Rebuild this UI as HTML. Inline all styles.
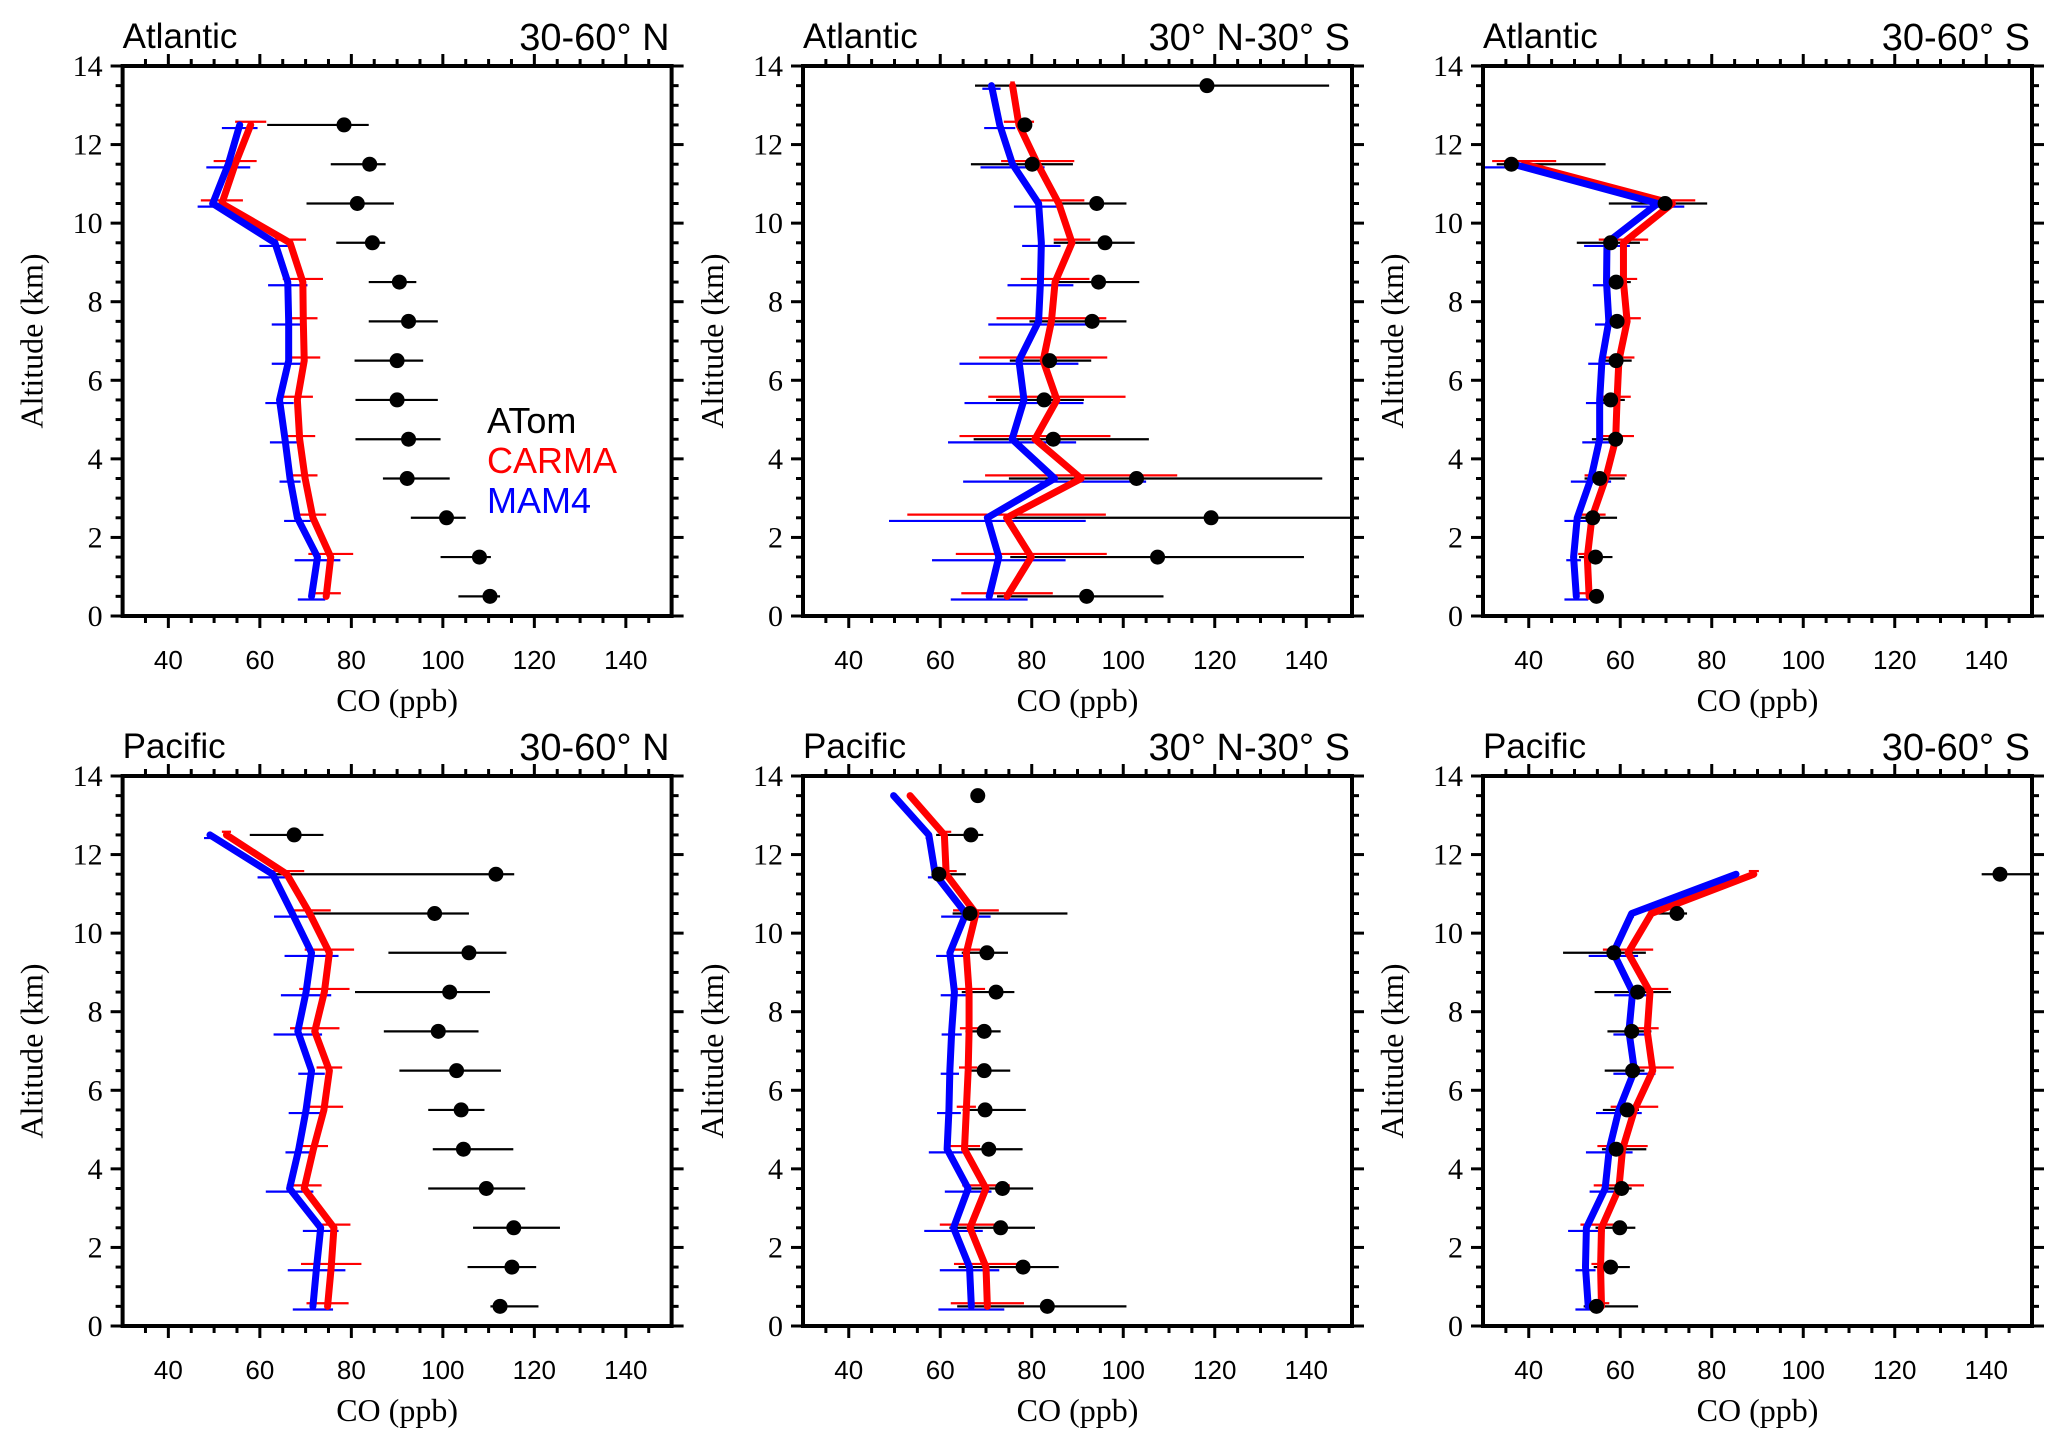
<!DOCTYPE html>
<html><head><meta charset="utf-8"><style>
html,body{margin:0;padding:0;background:#fff;}
svg{display:block;}
</style></head><body>
<svg id="chart" width="2067" height="1443" viewBox="0 0 2067 1443" xmlns="http://www.w3.org/2000/svg"></svg>
<script>
// ---- data (CO ppb by altitude km) ----
const xTicks = [40,60,80,100,120,140];
const yTicks = [0,2,4,6,8,10,12,14];
const basins = ["Atlantic","Atlantic","Atlantic","Pacific","Pacific","Pacific"];
const regions = ["30-60° N","30° N-30° S","30-60° S","30-60° N","30° N-30° S","30-60° S"];

const alt13 = [0.5,1.5,2.5,3.5,4.5,5.5,6.5,7.5,8.5,9.5,10.5,11.5,12.5];
const alt14 = [0.5,1.5,2.5,3.5,4.5,5.5,6.5,7.5,8.5,9.5,10.5,11.5,12.5,13.5];
const alt12 = [0.5,1.5,2.5,3.5,4.5,5.5,6.5,7.5,8.5,9.5,10.5,11.5];

// Panel 1: Atlantic 30-60N
const p1Atom = [110.3,108,100.8,92.2,92.5,90,90,92.5,90.5,84.6,81.3,84,78.4];
const p1AtomLo = [103.4,99.5,93,86.9,80.9,80.9,80.7,83.8,83.8,76.7,70.2,75.5,61.6];
const p1AtomHi = [112.5,110.5,105,101.5,99.5,98.9,95.7,98.9,94.2,87.4,89.3,87.5,83.8];
const p1Carma = [74.5,75.5,71.6,69.9,68.7,68.2,69.7,69.5,69.4,66.6,51.7,54.6,58];
const p1CarmaErr = [3.2,4.9,2.9,2.7,3.4,3.4,3.5,3.1,4.4,3.5,4.6,4.7,3.4];
const p1Mam4 = [71.3,72.6,68.2,66.6,65.5,64.3,66.3,66.3,66.1,63.3,49.7,53.1,55.6];
const p1Mam4Err = [3,5,2.9,2.3,3.3,3.1,3.7,3.7,4.3,3.4,3.3,4.8,3.9];

// Panel 2: Atlantic 30N-30S
const p2Atom = [92,107.5,119.2,102.9,84.7,82.7,83.9,93.2,94.6,96,94.2,80.1,78.5,118.3];
const p2AtomLo = [72.4,75.3,75.4,75,67.3,72.2,75.2,79.5,84.7,84.8,86.3,66.7,77,67.6];
const p2AtomHi = [108.8,139.5,150,143.5,105.6,91.4,93,100.7,103.5,102.5,100.7,89,80,145];
const p2Carma = [74.6,79.9,74.5,90.8,80.7,85.5,82.5,84.3,85.1,88.8,85.9,81.3,77.2,75.8];
const p2CarmaErr = [10,16.5,21.7,21,16.5,15,14,12,7.5,4,5.6,8,3.3,0.5];
const p2Mam4 = [70.7,72.8,70.3,85,75.7,78.3,77.2,81.5,81.9,82.1,81.5,75.8,73,71.2];
const p2Mam4Err = [8.4,14.6,21.5,20,14,13,13,11,7.2,4.2,5.4,7,3.4,2];

// Panel 3: Atlantic 30-60S
const p3Atom = [54.8,54.6,54,55.5,59,57.9,59.1,59.3,59.1,57.9,69.8,36.2];
const p3AtomLo = [52.8,51,50.4,52.2,53.8,55,56.2,57.6,56.8,50.5,57.5,33];
const p3AtomHi = [56.4,58.3,59.3,61,60,61,62.5,61.9,62.3,64.3,79,56.8];
const p3Carma = [53.2,52.8,53.8,56.8,59,59.3,59.7,61.5,60.7,60.7,71.4,39];
const p3CarmaErr = [2.5,2,3,4.6,4,3,3.4,3,3,5.4,5,7];
const p3Mam4 = [50.4,49.8,50.6,53.6,55.5,55.5,56,57.5,57,57.1,68.2,36.6];
const p3Mam4Err = [2.6,1.6,2.8,4.4,3.8,3,3,3,3,5,5.8,6.5];

// Panel 4: Pacific 30-60N
const p4Atom = [112.5,115.1,115.5,109.5,104.5,104,103,99,101.5,105.7,98.2,111.6,67.5];
const p4AtomLo = [110.4,105.4,106.6,96.8,97.8,96.8,90.5,87.1,80.8,88.1,70.1,63.2,57.8];
const p4AtomHi = [120.9,120.4,125.6,118,115.4,109.1,112.7,107.8,110.3,113.9,105.7,115.6,73.9];
const p4Carma = [74.8,75.6,76.2,69.7,71.7,74,75.2,72,74.1,75.2,70.9,65.9,52.7];
const p4CarmaErr = [4.6,6.6,3.6,3.8,3.2,4.2,2.8,5.4,5.5,5.4,4.6,3.8,1];
const p4Mam4 = [71.6,72.4,73.3,66.5,68.5,70.1,71.3,68.3,70.1,71.3,67.1,62.8,49.1];
const p4Mam4Err = [4.4,6.3,3.9,5.2,2.9,3.8,2.9,5.3,5.5,5.9,4,3.3,1.3];

// Panel 5: Pacific 30N-30S
const p5Atom = [83.4,78.1,73.2,73.6,70.6,69.8,69.6,69.6,72.2,70.2,66.5,59.7,66.7,68.2];
const p5AtomLo = [63.7,64,62,65.7,65.3,64.9,65.5,65.5,64.7,64.7,62.7,58.3,59.1,68.2];
const p5AtomHi = [100.7,85.9,80.7,80.3,78,78.7,75.3,73.2,76.2,74.8,87.8,65.6,69.4,68.2];
const p5Carma = [70.3,70,66.5,70,65.3,65.7,66.1,66.3,66.3,65.7,67.8,61.3,60.9,53.4];
const p5CarmaErr = [8,7,6.6,5.2,3.4,2.1,2,2,3.5,3,5,2.3,1.5,0];
const p5Mam4 = [66.8,66.4,62.9,66.1,61.5,61.9,62.1,62.5,63.1,62.1,65.6,58.9,57.5,49.8];
const p5Mam4Err = [7.2,6.5,6.4,5.1,4,2.6,2,2.2,3,3,5.4,1.6,0.7,0];

// Panel 6: Pacific 30-60S
const p6Atom = [54.8,57.9,59.9,60.3,59.1,61.5,62.7,62.5,63.8,58.6,72.4,143];
const p6AtomLo = [52,54.2,54.6,55.9,56,56.2,56.6,57.2,54.4,47.5,68.2,139];
const p6AtomHi = [63.9,62.1,63.3,62.5,65.7,64.1,65.3,66.8,71.1,65.6,74.6,150];
const p6Carma = [55.9,55.7,55.9,59.7,60.5,63.1,67.1,65.9,66.5,61.7,66.8,89.2];
const p6CarmaErr = [1.7,2,4.6,5.5,5.5,5.2,4.6,2.5,4,5.5,1,1.1];
const p6Mam4 = [53,52.4,52.6,56.7,57.6,59.7,63.1,61.9,62.7,58.5,62.5,85.3];
const p6Mam4Err = [2.8,2.2,4,3.4,5.1,5,4.6,3.4,4,5.4,0.5,0.5];

const panels = [
 {alt:alt13, atom:p1Atom, lo:p1AtomLo, hi:p1AtomHi, carma:p1Carma, cErr:p1CarmaErr, mam:p1Mam4, mErr:p1Mam4Err},
 {alt:alt14, atom:p2Atom, lo:p2AtomLo, hi:p2AtomHi, carma:p2Carma, cErr:p2CarmaErr, mam:p2Mam4, mErr:p2Mam4Err},
 {alt:alt12, atom:p3Atom, lo:p3AtomLo, hi:p3AtomHi, carma:p3Carma, cErr:p3CarmaErr, mam:p3Mam4, mErr:p3Mam4Err},
 {alt:alt13, atom:p4Atom, lo:p4AtomLo, hi:p4AtomHi, carma:p4Carma, cErr:p4CarmaErr, mam:p4Mam4, mErr:p4Mam4Err},
 {alt:alt14, atom:p5Atom, lo:p5AtomLo, hi:p5AtomHi, carma:p5Carma, cErr:p5CarmaErr, mam:p5Mam4, mErr:p5Mam4Err},
 {alt:alt12, atom:p6Atom, lo:p6AtomLo, hi:p6AtomHi, carma:p6Carma, cErr:p6CarmaErr, mam:p6Mam4, mErr:p6Mam4Err}
];

const NS = "http://www.w3.org/2000/svg";
const svg = document.getElementById("chart");
function mk(tag, attrs, parent){
  const e = document.createElementNS(NS, tag);
  for (const k in attrs) e.setAttribute(k, attrs[k]);
  (parent||svg).appendChild(e);
  return e;
}
const colX = [122.6, 803, 1483];
const rowY = [66, 776];
const PW = 549, PH = 550;
const XMIN = 30, XMAX = 150, YMIN = 0, YMAX = 14;

panels.forEach((p, i) => {
  const L = colX[i % 3], T = rowY[Math.floor(i / 3)];
  const xs = v => L + (v - XMIN) / (XMAX - XMIN) * PW;
  const ys = v => T + PH - (v - YMIN) / (YMAX - YMIN) * PH;
  const g = mk("g", {});
  
  

  const cp = mk("clipPath", {id: "clip" + i}, g);
  mk("rect", {x: L, y: T, width: PW, height: PH}, cp);

  const t1 = mk("text", {x: L, y: T - 18, "font-family": "Liberation Sans, sans-serif", "font-size": 35, fill: "#000"}, g);
  t1.textContent = basins[i];
  
  
  const t2 = mk("text", {x: L + PW - 2, y: T - 16, "font-family": "Liberation Sans, sans-serif", "font-size": 38, fill: "#000", "text-anchor": "end"}, g);
  t2.textContent = regions[i];
  
  

  const tk = mk("g", {stroke: "#000", "stroke-width": 3}, g);
  
  
  for (let v = XMIN + 5; v < XMAX; v += 5) {
    const major = xTicks.includes(v);
    const len = major ? 12 : 7;
    const x = xs(v);
    mk("line", {x1: x, y1: T + PH, x2: x, y2: T + PH + len}, tk);
    mk("line", {x1: x, y1: T, x2: x, y2: T - len}, tk);
  }
  for (let v = 0.5; v < YMAX; v += 0.5) {
    const major = yTicks.includes(v);
    const len = major ? 12 : 7;
    const y = ys(v);
    mk("line", {x1: L, y1: y, x2: L - len, y2: y}, tk);
    mk("line", {x1: L + PW, y1: y, x2: L + PW + len, y2: y}, tk);
  }
  yTicks.forEach(v => {
    if (v === 0 || v === 14) {
      mk("line", {x1: L, y1: ys(v), x2: L - 12, y2: ys(v)}, tk);
      mk("line", {x1: L + PW, y1: ys(v), x2: L + PW + 12, y2: ys(v)}, tk);
    }
    const t = mk("text", {x: L - 20, y: ys(v) + 10, "font-family": "Liberation Serif, serif", "font-size": 30, "text-anchor": "end", fill: "#000"}, g);
    t.textContent = v;
    
    
  });
  xTicks.forEach(v => {
    const t = mk("text", {x: xs(v), y: T + PH + 53, "font-family": "Liberation Sans, sans-serif", "font-size": 26, "text-anchor": "middle", fill: "#000"}, g);
    t.textContent = v;
    
    
  });
  const xt = mk("text", {x: L + PW / 2, y: T + PH + 95, "font-family": "Liberation Serif, serif", "font-size": 32, "text-anchor": "middle", fill: "#000"}, g);
  xt.textContent = "CO (ppb)";
  
  
  const cx = L - 80, cy = T + PH / 2;
  const yt = mk("text", {x: cx, y: cy, transform: "rotate(-90 " + cx + " " + cy + ")", "font-family": "Liberation Serif, serif", "font-size": 32, "text-anchor": "middle", fill: "#000"}, g);
  yt.textContent = "Altitude (km)";
  
  

  const data = mk("g", {"clip-path": "url(#clip" + i + ")"}, g);

  p.alt.forEach((a, k) => {
    if (p.hi[k] > p.lo[k]) {
      const b = mk("line", {x1: xs(p.lo[k]), x2: xs(p.hi[k]), y1: ys(a), y2: ys(a), stroke: "#000", "stroke-width": 2.2}, data);
      
      
    }
  });
  p.alt.forEach((a, k) => {
    if (p.cErr[k] > 0) {
      const b = mk("line", {x1: xs(p.carma[k] - p.cErr[k]), x2: xs(p.carma[k] + p.cErr[k]), y1: ys(a + 0.08), y2: ys(a + 0.08), stroke: "#ff0000", "stroke-width": 2.2}, data);
      
      
    }
    if (p.mErr[k] > 0) {
      const b = mk("line", {x1: xs(p.mam[k] - p.mErr[k]), x2: xs(p.mam[k] + p.mErr[k]), y1: ys(a - 0.08), y2: ys(a - 0.08), stroke: "#0000ff", "stroke-width": 2.2}, data);
      
      
    }
  });
  const cl = mk("polyline", {points: p.alt.map((a, k) => xs(p.carma[k]) + "," + ys(a)).join(" "), fill: "none", stroke: "#ff0000", "stroke-width": 7, "stroke-linejoin": "round", "stroke-linecap": "round"}, data);
  
  
  const ml = mk("polyline", {points: p.alt.map((a, k) => xs(p.mam[k]) + "," + ys(a)).join(" "), fill: "none", stroke: "#0000ff", "stroke-width": 7, "stroke-linejoin": "round", "stroke-linecap": "round"}, data);
  
  
  p.alt.forEach((a, k) => {
    const c = mk("circle", {cx: xs(p.atom[k]), cy: ys(a), r: 7.5, fill: "#000"}, data);
    
    
  });

  const fr = mk("rect", {x: L, y: T, width: PW, height: PH, fill: "none", stroke: "#000", "stroke-width": 4}, g);
  
  
});

const lg = mk("g", {"font-family": "Liberation Sans, sans-serif", "font-size": 36});


[["ATom", "#000", 433], ["CARMA", "#ff0000", 473], ["MAM4", "#0000ff", 513]].forEach(e => {
  const t = mk("text", {x: 487, y: e[2], fill: e[1]}, lg);
  t.textContent = e[0];
  
  
});
</script>
</body></html>
